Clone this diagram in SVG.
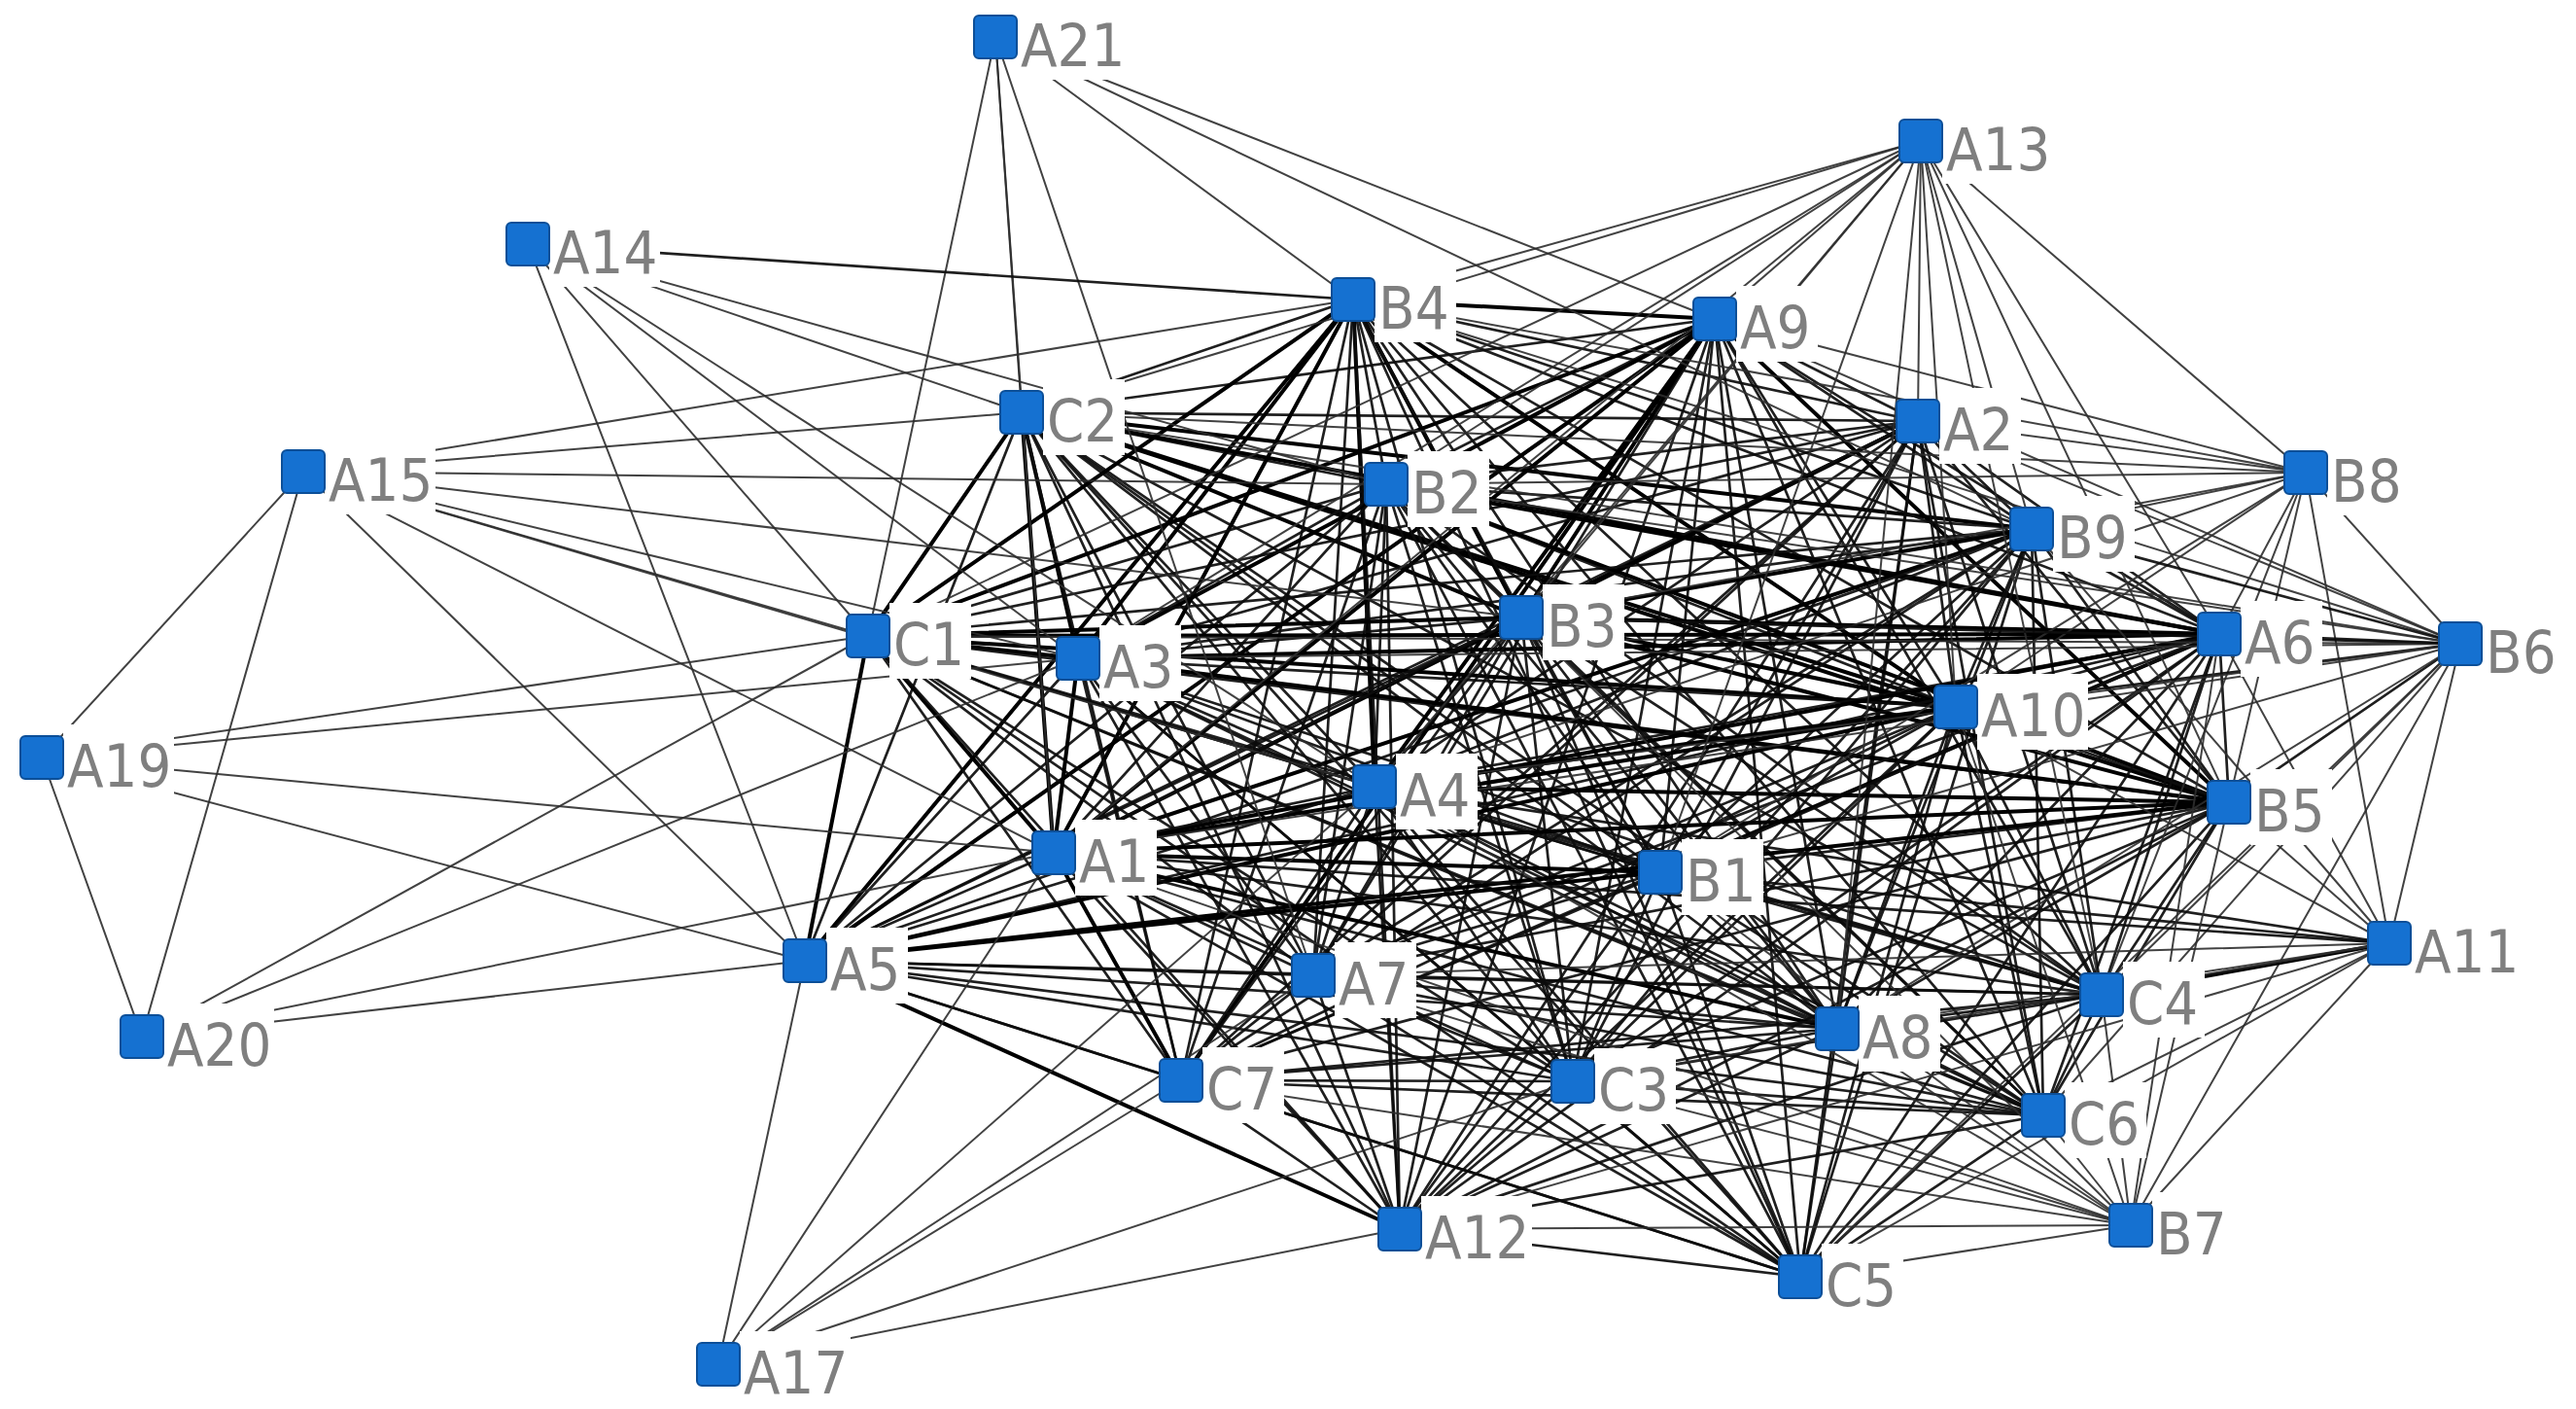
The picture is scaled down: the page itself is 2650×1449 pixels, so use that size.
<svg xmlns="http://www.w3.org/2000/svg" width="2650" height="1449" viewBox="0 0 2650 1449">
<style>
line{fill:none;stroke-linecap:round}
.t{stroke:#2e2e2e;stroke-width:2;stroke-opacity:.9}
.m{stroke:#0c0c0c;stroke-width:2.7;stroke-opacity:.92}
.k{stroke:#000;stroke-width:4}
.lbg{fill:#fff}
.box{fill:#1571d1;stroke:#0c4f98;stroke-width:2}
text{font-family:"DejaVu Sans","Liberation Sans",sans-serif;font-stretch:condensed;font-size:61px;fill:#7f7f7f}
</style>
<rect width="2650" height="1449" fill="#fff"/>
<g id="edges">
<!-- C2 -->
<line class="m" x1="1051" y1="424" x2="1392" y2="308"/>
<line class="m" x1="1051" y1="424" x2="1764" y2="328"/>
<line class="m" x1="1051" y1="424" x2="1973" y2="433"/>
<line class="m" x1="1051" y1="424" x2="1426" y2="498"/>
<line class="k" x1="1051" y1="424" x2="2090" y2="544"/>
<line class="k" x1="1051" y1="424" x2="893" y2="654"/>
<line class="k" x1="1051" y1="424" x2="1109" y2="677"/>
<line class="k" x1="1051" y1="424" x2="1565" y2="635"/>
<line class="k" x1="1051" y1="424" x2="2283" y2="652"/>
<line class="k" x1="1051" y1="424" x2="2012" y2="727"/>
<line class="m" x1="1051" y1="424" x2="1414" y2="809"/>
<line class="k" x1="1051" y1="424" x2="2293" y2="825"/>
<line class="k" x1="1051" y1="424" x2="1084" y2="877"/>
<line class="m" x1="1051" y1="424" x2="1708" y2="897"/>
<line class="m" x1="1051" y1="424" x2="828" y2="988"/>
<line class="m" x1="1051" y1="424" x2="1351" y2="1003"/>
<line class="m" x1="1051" y1="424" x2="2162" y2="1023"/>
<line class="m" x1="1051" y1="424" x2="1890" y2="1058"/>
<line class="m" x1="1051" y1="424" x2="1215" y2="1111"/>
<line class="m" x1="1051" y1="424" x2="1618" y2="1112"/>
<line class="m" x1="1051" y1="424" x2="2102" y2="1147"/>
<line class="m" x1="1051" y1="424" x2="1440" y2="1264"/>
<line class="m" x1="1051" y1="424" x2="1852" y2="1313"/>
<!-- B4 -->
<line class="k" x1="1392" y1="308" x2="1764" y2="328"/>
<line class="m" x1="1392" y1="308" x2="1973" y2="433"/>
<line class="m" x1="1392" y1="308" x2="1426" y2="498"/>
<line class="m" x1="1392" y1="308" x2="2090" y2="544"/>
<line class="k" x1="1392" y1="308" x2="893" y2="654"/>
<line class="k" x1="1392" y1="308" x2="1109" y2="677"/>
<line class="k" x1="1392" y1="308" x2="1565" y2="635"/>
<line class="m" x1="1392" y1="308" x2="2283" y2="652"/>
<line class="k" x1="1392" y1="308" x2="2012" y2="727"/>
<line class="k" x1="1392" y1="308" x2="1414" y2="809"/>
<line class="m" x1="1392" y1="308" x2="2293" y2="825"/>
<line class="k" x1="1392" y1="308" x2="1084" y2="877"/>
<line class="m" x1="1392" y1="308" x2="1708" y2="897"/>
<line class="k" x1="1392" y1="308" x2="828" y2="988"/>
<line class="m" x1="1392" y1="308" x2="1351" y2="1003"/>
<line class="m" x1="1392" y1="308" x2="2162" y2="1023"/>
<line class="m" x1="1392" y1="308" x2="1890" y2="1058"/>
<line class="m" x1="1392" y1="308" x2="1215" y2="1111"/>
<line class="m" x1="1392" y1="308" x2="1618" y2="1112"/>
<line class="m" x1="1392" y1="308" x2="2102" y2="1147"/>
<line class="m" x1="1392" y1="308" x2="1440" y2="1264"/>
<line class="m" x1="1392" y1="308" x2="1852" y2="1313"/>
<!-- A9 -->
<line class="m" x1="1764" y1="328" x2="1973" y2="433"/>
<line class="m" x1="1764" y1="328" x2="1426" y2="498"/>
<line class="m" x1="1764" y1="328" x2="2090" y2="544"/>
<line class="k" x1="1764" y1="328" x2="893" y2="654"/>
<line class="k" x1="1764" y1="328" x2="1109" y2="677"/>
<line class="k" x1="1764" y1="328" x2="1565" y2="635"/>
<line class="m" x1="1764" y1="328" x2="2283" y2="652"/>
<line class="m" x1="1764" y1="328" x2="2012" y2="727"/>
<line class="k" x1="1764" y1="328" x2="1414" y2="809"/>
<line class="k" x1="1764" y1="328" x2="2293" y2="825"/>
<line class="k" x1="1764" y1="328" x2="1084" y2="877"/>
<line class="m" x1="1764" y1="328" x2="1708" y2="897"/>
<line class="k" x1="1764" y1="328" x2="828" y2="988"/>
<line class="m" x1="1764" y1="328" x2="1351" y2="1003"/>
<line class="m" x1="1764" y1="328" x2="2162" y2="1023"/>
<line class="m" x1="1764" y1="328" x2="1890" y2="1058"/>
<line class="k" x1="1764" y1="328" x2="1215" y2="1111"/>
<line class="m" x1="1764" y1="328" x2="1618" y2="1112"/>
<line class="m" x1="1764" y1="328" x2="2102" y2="1147"/>
<line class="m" x1="1764" y1="328" x2="1440" y2="1264"/>
<line class="m" x1="1764" y1="328" x2="1852" y2="1313"/>
<!-- A2 -->
<line class="m" x1="1973" y1="433" x2="1426" y2="498"/>
<line class="m" x1="1973" y1="433" x2="2090" y2="544"/>
<line class="m" x1="1973" y1="433" x2="893" y2="654"/>
<line class="m" x1="1973" y1="433" x2="1109" y2="677"/>
<line class="k" x1="1973" y1="433" x2="1565" y2="635"/>
<line class="m" x1="1973" y1="433" x2="2283" y2="652"/>
<line class="m" x1="1973" y1="433" x2="2012" y2="727"/>
<line class="m" x1="1973" y1="433" x2="1414" y2="809"/>
<line class="m" x1="1973" y1="433" x2="2293" y2="825"/>
<line class="k" x1="1973" y1="433" x2="1084" y2="877"/>
<line class="m" x1="1973" y1="433" x2="1708" y2="897"/>
<line class="m" x1="1973" y1="433" x2="828" y2="988"/>
<line class="m" x1="1973" y1="433" x2="1351" y2="1003"/>
<line class="m" x1="1973" y1="433" x2="2162" y2="1023"/>
<line class="m" x1="1973" y1="433" x2="1890" y2="1058"/>
<line class="m" x1="1973" y1="433" x2="1215" y2="1111"/>
<line class="m" x1="1973" y1="433" x2="1618" y2="1112"/>
<line class="m" x1="1973" y1="433" x2="2102" y2="1147"/>
<line class="m" x1="1973" y1="433" x2="1440" y2="1264"/>
<line class="m" x1="1973" y1="433" x2="1852" y2="1313"/>
<!-- B2 -->
<line class="m" x1="1426" y1="498" x2="2090" y2="544"/>
<line class="m" x1="1426" y1="498" x2="893" y2="654"/>
<line class="m" x1="1426" y1="498" x2="1109" y2="677"/>
<line class="m" x1="1426" y1="498" x2="1565" y2="635"/>
<line class="k" x1="1426" y1="498" x2="2283" y2="652"/>
<line class="m" x1="1426" y1="498" x2="2012" y2="727"/>
<line class="m" x1="1426" y1="498" x2="1414" y2="809"/>
<line class="k" x1="1426" y1="498" x2="2293" y2="825"/>
<line class="m" x1="1426" y1="498" x2="1084" y2="877"/>
<line class="m" x1="1426" y1="498" x2="1708" y2="897"/>
<line class="m" x1="1426" y1="498" x2="828" y2="988"/>
<line class="m" x1="1426" y1="498" x2="1351" y2="1003"/>
<line class="m" x1="1426" y1="498" x2="2162" y2="1023"/>
<line class="m" x1="1426" y1="498" x2="1890" y2="1058"/>
<line class="m" x1="1426" y1="498" x2="1215" y2="1111"/>
<line class="m" x1="1426" y1="498" x2="1618" y2="1112"/>
<line class="m" x1="1426" y1="498" x2="2102" y2="1147"/>
<line class="m" x1="1426" y1="498" x2="1440" y2="1264"/>
<line class="m" x1="1426" y1="498" x2="1852" y2="1313"/>
<!-- B9 -->
<line class="m" x1="2090" y1="544" x2="893" y2="654"/>
<line class="m" x1="2090" y1="544" x2="1109" y2="677"/>
<line class="k" x1="2090" y1="544" x2="1565" y2="635"/>
<line class="m" x1="2090" y1="544" x2="2283" y2="652"/>
<line class="m" x1="2090" y1="544" x2="2012" y2="727"/>
<line class="m" x1="2090" y1="544" x2="1414" y2="809"/>
<line class="m" x1="2090" y1="544" x2="2293" y2="825"/>
<line class="k" x1="2090" y1="544" x2="1084" y2="877"/>
<line class="m" x1="2090" y1="544" x2="1708" y2="897"/>
<line class="m" x1="2090" y1="544" x2="828" y2="988"/>
<line class="m" x1="2090" y1="544" x2="1351" y2="1003"/>
<line class="m" x1="2090" y1="544" x2="2162" y2="1023"/>
<line class="m" x1="2090" y1="544" x2="1890" y2="1058"/>
<line class="m" x1="2090" y1="544" x2="1215" y2="1111"/>
<line class="m" x1="2090" y1="544" x2="1618" y2="1112"/>
<line class="m" x1="2090" y1="544" x2="2102" y2="1147"/>
<line class="m" x1="2090" y1="544" x2="1440" y2="1264"/>
<line class="m" x1="2090" y1="544" x2="1852" y2="1313"/>
<!-- C1 -->
<line class="k" x1="893" y1="654" x2="1109" y2="677"/>
<line class="k" x1="893" y1="654" x2="1565" y2="635"/>
<line class="k" x1="893" y1="654" x2="2283" y2="652"/>
<line class="k" x1="893" y1="654" x2="2012" y2="727"/>
<line class="m" x1="893" y1="654" x2="1414" y2="809"/>
<line class="m" x1="893" y1="654" x2="2293" y2="825"/>
<line class="k" x1="893" y1="654" x2="1084" y2="877"/>
<line class="m" x1="893" y1="654" x2="1708" y2="897"/>
<line class="k" x1="893" y1="654" x2="828" y2="988"/>
<line class="m" x1="893" y1="654" x2="1351" y2="1003"/>
<line class="m" x1="893" y1="654" x2="2162" y2="1023"/>
<line class="m" x1="893" y1="654" x2="1890" y2="1058"/>
<line class="m" x1="893" y1="654" x2="1215" y2="1111"/>
<line class="m" x1="893" y1="654" x2="1618" y2="1112"/>
<line class="m" x1="893" y1="654" x2="2102" y2="1147"/>
<line class="m" x1="893" y1="654" x2="1440" y2="1264"/>
<line class="m" x1="893" y1="654" x2="1852" y2="1313"/>
<!-- A3 -->
<line class="m" x1="1109" y1="677" x2="1565" y2="635"/>
<line class="k" x1="1109" y1="677" x2="2283" y2="652"/>
<line class="m" x1="1109" y1="677" x2="2012" y2="727"/>
<line class="m" x1="1109" y1="677" x2="1414" y2="809"/>
<line class="k" x1="1109" y1="677" x2="2293" y2="825"/>
<line class="k" x1="1109" y1="677" x2="1084" y2="877"/>
<line class="m" x1="1109" y1="677" x2="1708" y2="897"/>
<line class="m" x1="1109" y1="677" x2="828" y2="988"/>
<line class="m" x1="1109" y1="677" x2="1351" y2="1003"/>
<line class="m" x1="1109" y1="677" x2="2162" y2="1023"/>
<line class="m" x1="1109" y1="677" x2="1890" y2="1058"/>
<line class="m" x1="1109" y1="677" x2="1215" y2="1111"/>
<line class="m" x1="1109" y1="677" x2="1618" y2="1112"/>
<line class="m" x1="1109" y1="677" x2="2102" y2="1147"/>
<line class="m" x1="1109" y1="677" x2="1440" y2="1264"/>
<line class="m" x1="1109" y1="677" x2="1852" y2="1313"/>
<!-- B3 -->
<line class="k" x1="1565" y1="635" x2="2283" y2="652"/>
<line class="k" x1="1565" y1="635" x2="2012" y2="727"/>
<line class="m" x1="1565" y1="635" x2="1414" y2="809"/>
<line class="k" x1="1565" y1="635" x2="2293" y2="825"/>
<line class="m" x1="1565" y1="635" x2="1084" y2="877"/>
<line class="m" x1="1565" y1="635" x2="1708" y2="897"/>
<line class="m" x1="1565" y1="635" x2="828" y2="988"/>
<line class="m" x1="1565" y1="635" x2="1351" y2="1003"/>
<line class="m" x1="1565" y1="635" x2="2162" y2="1023"/>
<line class="m" x1="1565" y1="635" x2="1890" y2="1058"/>
<line class="m" x1="1565" y1="635" x2="1215" y2="1111"/>
<line class="m" x1="1565" y1="635" x2="1618" y2="1112"/>
<line class="m" x1="1565" y1="635" x2="2102" y2="1147"/>
<line class="m" x1="1565" y1="635" x2="1440" y2="1264"/>
<line class="m" x1="1565" y1="635" x2="1852" y2="1313"/>
<!-- A6 -->
<line class="m" x1="2283" y1="652" x2="2012" y2="727"/>
<line class="m" x1="2283" y1="652" x2="1414" y2="809"/>
<line class="m" x1="2283" y1="652" x2="2293" y2="825"/>
<line class="k" x1="2283" y1="652" x2="1084" y2="877"/>
<line class="k" x1="2283" y1="652" x2="1708" y2="897"/>
<line class="m" x1="2283" y1="652" x2="828" y2="988"/>
<line class="m" x1="2283" y1="652" x2="1351" y2="1003"/>
<line class="m" x1="2283" y1="652" x2="2162" y2="1023"/>
<line class="m" x1="2283" y1="652" x2="1890" y2="1058"/>
<line class="m" x1="2283" y1="652" x2="1215" y2="1111"/>
<line class="m" x1="2283" y1="652" x2="1618" y2="1112"/>
<line class="m" x1="2283" y1="652" x2="2102" y2="1147"/>
<line class="m" x1="2283" y1="652" x2="1440" y2="1264"/>
<line class="m" x1="2283" y1="652" x2="1852" y2="1313"/>
<!-- A10 -->
<line class="k" x1="2012" y1="727" x2="1414" y2="809"/>
<line class="m" x1="2012" y1="727" x2="2293" y2="825"/>
<line class="k" x1="2012" y1="727" x2="1084" y2="877"/>
<line class="m" x1="2012" y1="727" x2="1708" y2="897"/>
<line class="k" x1="2012" y1="727" x2="828" y2="988"/>
<line class="m" x1="2012" y1="727" x2="1351" y2="1003"/>
<line class="m" x1="2012" y1="727" x2="2162" y2="1023"/>
<line class="m" x1="2012" y1="727" x2="1890" y2="1058"/>
<line class="m" x1="2012" y1="727" x2="1215" y2="1111"/>
<line class="m" x1="2012" y1="727" x2="1618" y2="1112"/>
<line class="m" x1="2012" y1="727" x2="2102" y2="1147"/>
<line class="m" x1="2012" y1="727" x2="1440" y2="1264"/>
<line class="m" x1="2012" y1="727" x2="1852" y2="1313"/>
<!-- A4 -->
<line class="k" x1="1414" y1="809" x2="2293" y2="825"/>
<line class="m" x1="1414" y1="809" x2="1084" y2="877"/>
<line class="m" x1="1414" y1="809" x2="1708" y2="897"/>
<line class="m" x1="1414" y1="809" x2="828" y2="988"/>
<line class="m" x1="1414" y1="809" x2="1351" y2="1003"/>
<line class="m" x1="1414" y1="809" x2="2162" y2="1023"/>
<line class="m" x1="1414" y1="809" x2="1890" y2="1058"/>
<line class="m" x1="1414" y1="809" x2="1215" y2="1111"/>
<line class="m" x1="1414" y1="809" x2="1618" y2="1112"/>
<line class="m" x1="1414" y1="809" x2="2102" y2="1147"/>
<line class="m" x1="1414" y1="809" x2="1440" y2="1264"/>
<line class="m" x1="1414" y1="809" x2="1852" y2="1313"/>
<!-- B5 -->
<line class="k" x1="2293" y1="825" x2="1084" y2="877"/>
<line class="m" x1="2293" y1="825" x2="1708" y2="897"/>
<line class="k" x1="2293" y1="825" x2="828" y2="988"/>
<line class="m" x1="2293" y1="825" x2="1351" y2="1003"/>
<line class="m" x1="2293" y1="825" x2="2162" y2="1023"/>
<line class="m" x1="2293" y1="825" x2="1890" y2="1058"/>
<line class="m" x1="2293" y1="825" x2="1215" y2="1111"/>
<line class="m" x1="2293" y1="825" x2="1618" y2="1112"/>
<line class="m" x1="2293" y1="825" x2="2102" y2="1147"/>
<line class="m" x1="2293" y1="825" x2="1440" y2="1264"/>
<line class="m" x1="2293" y1="825" x2="1852" y2="1313"/>
<!-- A1 -->
<line class="k" x1="1084" y1="877" x2="1708" y2="897"/>
<line class="m" x1="1084" y1="877" x2="828" y2="988"/>
<line class="m" x1="1084" y1="877" x2="1351" y2="1003"/>
<line class="m" x1="1084" y1="877" x2="2162" y2="1023"/>
<line class="k" x1="1084" y1="877" x2="1890" y2="1058"/>
<line class="k" x1="1084" y1="877" x2="1215" y2="1111"/>
<line class="m" x1="1084" y1="877" x2="1618" y2="1112"/>
<line class="m" x1="1084" y1="877" x2="2102" y2="1147"/>
<line class="m" x1="1084" y1="877" x2="1440" y2="1264"/>
<line class="m" x1="1084" y1="877" x2="1852" y2="1313"/>
<!-- B1 -->
<line class="k" x1="1708" y1="897" x2="828" y2="988"/>
<line class="m" x1="1708" y1="897" x2="1351" y2="1003"/>
<line class="m" x1="1708" y1="897" x2="2162" y2="1023"/>
<line class="m" x1="1708" y1="897" x2="1890" y2="1058"/>
<line class="m" x1="1708" y1="897" x2="1215" y2="1111"/>
<line class="m" x1="1708" y1="897" x2="1618" y2="1112"/>
<line class="m" x1="1708" y1="897" x2="2102" y2="1147"/>
<line class="m" x1="1708" y1="897" x2="1440" y2="1264"/>
<line class="m" x1="1708" y1="897" x2="1852" y2="1313"/>
<!-- A5 -->
<line class="m" x1="828" y1="988" x2="1351" y2="1003"/>
<line class="m" x1="828" y1="988" x2="2162" y2="1023"/>
<line class="m" x1="828" y1="988" x2="1890" y2="1058"/>
<line class="m" x1="828" y1="988" x2="1215" y2="1111"/>
<line class="m" x1="828" y1="988" x2="1618" y2="1112"/>
<line class="m" x1="828" y1="988" x2="2102" y2="1147"/>
<line class="k" x1="828" y1="988" x2="1440" y2="1264"/>
<line class="m" x1="828" y1="988" x2="1852" y2="1313"/>
<!-- A7 -->
<line class="m" x1="1351" y1="1003" x2="2162" y2="1023"/>
<line class="m" x1="1351" y1="1003" x2="1890" y2="1058"/>
<line class="m" x1="1351" y1="1003" x2="1215" y2="1111"/>
<line class="m" x1="1351" y1="1003" x2="1618" y2="1112"/>
<line class="m" x1="1351" y1="1003" x2="2102" y2="1147"/>
<line class="m" x1="1351" y1="1003" x2="1440" y2="1264"/>
<line class="m" x1="1351" y1="1003" x2="1852" y2="1313"/>
<!-- C4 -->
<line class="m" x1="2162" y1="1023" x2="1890" y2="1058"/>
<line class="m" x1="2162" y1="1023" x2="1215" y2="1111"/>
<line class="m" x1="2162" y1="1023" x2="1618" y2="1112"/>
<line class="m" x1="2162" y1="1023" x2="2102" y2="1147"/>
<line class="m" x1="2162" y1="1023" x2="1440" y2="1264"/>
<line class="m" x1="2162" y1="1023" x2="1852" y2="1313"/>
<!-- A8 -->
<line class="m" x1="1890" y1="1058" x2="1215" y2="1111"/>
<line class="m" x1="1890" y1="1058" x2="1618" y2="1112"/>
<line class="m" x1="1890" y1="1058" x2="2102" y2="1147"/>
<line class="m" x1="1890" y1="1058" x2="1440" y2="1264"/>
<line class="m" x1="1890" y1="1058" x2="1852" y2="1313"/>
<!-- C7 -->
<line class="m" x1="1215" y1="1111" x2="1618" y2="1112"/>
<line class="m" x1="1215" y1="1111" x2="2102" y2="1147"/>
<line class="m" x1="1215" y1="1111" x2="1440" y2="1264"/>
<line class="m" x1="1215" y1="1111" x2="1852" y2="1313"/>
<!-- C3, C6, A12 -->
<line class="m" x1="1618" y1="1112" x2="2102" y2="1147"/>
<line class="m" x1="1618" y1="1112" x2="1440" y2="1264"/>
<line class="m" x1="1618" y1="1112" x2="1852" y2="1313"/>
<line class="m" x1="2102" y1="1147" x2="1440" y2="1264"/>
<line class="m" x1="2102" y1="1147" x2="1852" y2="1313"/>
<line class="m" x1="1440" y1="1264" x2="1852" y2="1313"/>
<!-- A13 -->
<line class="t" x1="1976" y1="145" x2="1392" y2="308"/>
<line class="t" x1="1976" y1="145" x2="1051" y2="424"/>
<line class="t" x1="1976" y1="145" x2="893" y2="654"/>
<line class="t" x1="1976" y1="145" x2="1109" y2="677"/>
<line class="t" x1="1976" y1="145" x2="1426" y2="498"/>
<line class="t" x1="1976" y1="145" x2="1764" y2="328"/>
<line class="t" x1="1976" y1="145" x2="1084" y2="877"/>
<line class="t" x1="1976" y1="145" x2="1414" y2="809"/>
<line class="t" x1="1976" y1="145" x2="1565" y2="635"/>
<line class="t" x1="1976" y1="145" x2="1708" y2="897"/>
<line class="t" x1="1976" y1="145" x2="1973" y2="433"/>
<line class="t" x1="1976" y1="145" x2="2012" y2="727"/>
<line class="t" x1="1976" y1="145" x2="1890" y2="1058"/>
<line class="t" x1="1976" y1="145" x2="2090" y2="544"/>
<line class="t" x1="1976" y1="145" x2="2283" y2="652"/>
<line class="t" x1="1976" y1="145" x2="2293" y2="825"/>
<line class="t" x1="1976" y1="145" x2="2162" y2="1023"/>
<line class="t" x1="1976" y1="145" x2="2372" y2="486"/>
<!-- B8 -->
<line class="t" x1="2372" y1="486" x2="1392" y2="308"/>
<line class="t" x1="2372" y1="486" x2="1764" y2="328"/>
<line class="t" x1="2372" y1="486" x2="1973" y2="433"/>
<line class="t" x1="2372" y1="486" x2="1051" y2="424"/>
<line class="t" x1="2372" y1="486" x2="1426" y2="498"/>
<line class="t" x1="2372" y1="486" x2="2090" y2="544"/>
<line class="t" x1="2372" y1="486" x2="1565" y2="635"/>
<line class="t" x1="2372" y1="486" x2="2283" y2="652"/>
<line class="t" x1="2372" y1="486" x2="2012" y2="727"/>
<line class="t" x1="2372" y1="486" x2="2293" y2="825"/>
<line class="t" x1="2372" y1="486" x2="2162" y2="1023"/>
<line class="t" x1="2372" y1="486" x2="1708" y2="897"/>
<line class="t" x1="2372" y1="486" x2="1414" y2="809"/>
<line class="t" x1="2372" y1="486" x2="2531" y2="662"/>
<line class="t" x1="2372" y1="486" x2="2458" y2="970"/>
<!-- B6 -->
<line class="t" x1="2531" y1="662" x2="1392" y2="308"/>
<line class="m" x1="2531" y1="662" x2="2090" y2="544"/>
<line class="t" x1="2531" y1="662" x2="1973" y2="433"/>
<line class="t" x1="2531" y1="662" x2="1764" y2="328"/>
<line class="t" x1="2531" y1="662" x2="1051" y2="424"/>
<line class="t" x1="2531" y1="662" x2="1426" y2="498"/>
<line class="m" x1="2531" y1="662" x2="1565" y2="635"/>
<line class="t" x1="2531" y1="662" x2="1109" y2="677"/>
<line class="t" x1="2531" y1="662" x2="893" y2="654"/>
<line class="m" x1="2531" y1="662" x2="2283" y2="652"/>
<line class="m" x1="2531" y1="662" x2="2012" y2="727"/>
<line class="t" x1="2531" y1="662" x2="1414" y2="809"/>
<line class="t" x1="2531" y1="662" x2="1084" y2="877"/>
<line class="t" x1="2531" y1="662" x2="1708" y2="897"/>
<line class="m" x1="2531" y1="662" x2="2293" y2="825"/>
<line class="t" x1="2531" y1="662" x2="2162" y2="1023"/>
<line class="t" x1="2531" y1="662" x2="1890" y2="1058"/>
<line class="t" x1="2531" y1="662" x2="2102" y2="1147"/>
<line class="t" x1="2531" y1="662" x2="2458" y2="970"/>
<line class="t" x1="2531" y1="662" x2="2192" y2="1260"/>
<line class="t" x1="2531" y1="662" x2="1852" y2="1313"/>
<!-- A11 -->
<line class="t" x1="2458" y1="970" x2="2283" y2="652"/>
<line class="t" x1="2458" y1="970" x2="2090" y2="544"/>
<line class="t" x1="2458" y1="970" x2="2012" y2="727"/>
<line class="t" x1="2458" y1="970" x2="2293" y2="825"/>
<line class="m" x1="2458" y1="970" x2="1414" y2="809"/>
<line class="m" x1="2458" y1="970" x2="1084" y2="877"/>
<line class="m" x1="2458" y1="970" x2="1708" y2="897"/>
<line class="k" x1="2458" y1="970" x2="2162" y2="1023"/>
<line class="t" x1="2458" y1="970" x2="1890" y2="1058"/>
<line class="t" x1="2458" y1="970" x2="1618" y2="1112"/>
<line class="t" x1="2458" y1="970" x2="2102" y2="1147"/>
<line class="t" x1="2458" y1="970" x2="1852" y2="1313"/>
<line class="t" x1="2458" y1="970" x2="1440" y2="1264"/>
<line class="t" x1="2458" y1="970" x2="2192" y2="1260"/>
<line class="t" x1="2458" y1="970" x2="1351" y2="1003"/>
<!-- B7 -->
<line class="t" x1="2192" y1="1260" x2="1440" y2="1264"/>
<line class="t" x1="2192" y1="1260" x2="1852" y2="1313"/>
<line class="t" x1="2192" y1="1260" x2="1618" y2="1112"/>
<line class="t" x1="2192" y1="1260" x2="1351" y2="1003"/>
<line class="t" x1="2192" y1="1260" x2="1890" y2="1058"/>
<line class="t" x1="2192" y1="1260" x2="1708" y2="897"/>
<line class="t" x1="2192" y1="1260" x2="2162" y2="1023"/>
<line class="t" x1="2192" y1="1260" x2="2102" y2="1147"/>
<line class="t" x1="2192" y1="1260" x2="2293" y2="825"/>
<line class="t" x1="2192" y1="1260" x2="2283" y2="652"/>
<line class="t" x1="2192" y1="1260" x2="2012" y2="727"/>
<line class="t" x1="2192" y1="1260" x2="1215" y2="1111"/>
<line class="t" x1="2192" y1="1260" x2="1414" y2="809"/>
<line class="t" x1="2192" y1="1260" x2="1084" y2="877"/>
<line class="t" x1="2192" y1="1260" x2="1565" y2="635"/>
<!-- A21 -->
<line class="t" x1="1024" y1="38" x2="893" y2="654"/>
<line class="t" x1="1024" y1="38" x2="1051" y2="424"/>
<line class="t" x1="1024" y1="38" x2="1084" y2="877"/>
<line class="t" x1="1024" y1="38" x2="1351" y2="1003"/>
<line class="t" x1="1024" y1="38" x2="1392" y2="308"/>
<line class="t" x1="1024" y1="38" x2="1764" y2="328"/>
<line class="t" x1="1024" y1="38" x2="2090" y2="544"/>
<!-- A14 -->
<line class="m" x1="543" y1="251" x2="1392" y2="308"/>
<line class="t" x1="543" y1="251" x2="1426" y2="498"/>
<line class="t" x1="543" y1="251" x2="1051" y2="424"/>
<line class="t" x1="543" y1="251" x2="893" y2="654"/>
<line class="t" x1="543" y1="251" x2="1109" y2="677"/>
<line class="t" x1="543" y1="251" x2="1414" y2="809"/>
<line class="t" x1="543" y1="251" x2="828" y2="988"/>
<!-- A15 -->
<line class="t" x1="312" y1="485" x2="43" y2="779"/>
<line class="t" x1="312" y1="485" x2="146" y2="1066"/>
<line class="t" x1="312" y1="485" x2="1392" y2="308"/>
<line class="t" x1="312" y1="485" x2="1051" y2="424"/>
<line class="t" x1="312" y1="485" x2="1426" y2="498"/>
<line class="t" x1="312" y1="485" x2="1565" y2="635"/>
<line class="t" x1="312" y1="485" x2="1109" y2="677"/>
<line class="t" x1="312" y1="485" x2="893" y2="654"/>
<line class="t" x1="312" y1="485" x2="1414" y2="809"/>
<line class="t" x1="312" y1="485" x2="1084" y2="877"/>
<line class="t" x1="312" y1="485" x2="828" y2="988"/>
<!-- A19 -->
<line class="t" x1="43" y1="779" x2="146" y2="1066"/>
<line class="t" x1="43" y1="779" x2="893" y2="654"/>
<line class="t" x1="43" y1="779" x2="1109" y2="677"/>
<line class="t" x1="43" y1="779" x2="1084" y2="877"/>
<line class="t" x1="43" y1="779" x2="828" y2="988"/>
<!-- A20 -->
<line class="t" x1="146" y1="1066" x2="893" y2="654"/>
<line class="t" x1="146" y1="1066" x2="1109" y2="677"/>
<line class="t" x1="146" y1="1066" x2="1084" y2="877"/>
<line class="t" x1="146" y1="1066" x2="828" y2="988"/>
<!-- A17 -->
<line class="t" x1="739" y1="1403" x2="828" y2="988"/>
<line class="t" x1="739" y1="1403" x2="1084" y2="877"/>
<line class="t" x1="739" y1="1403" x2="1215" y2="1111"/>
<line class="t" x1="739" y1="1403" x2="1351" y2="1003"/>
<line class="t" x1="739" y1="1403" x2="1414" y2="809"/>
<line class="t" x1="739" y1="1403" x2="1618" y2="1112"/>
<line class="t" x1="739" y1="1403" x2="1440" y2="1264"/>
</g>
<g id="nodes">
<g id="A1"><rect class="lbg" x="1106" y="843" width="84" height="78"/><rect class="box" x="1062" y="855" width="44" height="44" rx="5"/><text x="1110" y="907">A1</text></g>
<g id="A2"><rect class="lbg" x="1995" y="399" width="84" height="78"/><rect class="box" x="1951" y="411" width="44" height="44" rx="5"/><text x="1999" y="463">A2</text></g>
<g id="A3"><rect class="lbg" x="1131" y="643" width="84" height="78"/><rect class="box" x="1087" y="655" width="44" height="44" rx="5"/><text x="1135" y="707">A3</text></g>
<g id="A4"><rect class="lbg" x="1436" y="775" width="84" height="78"/><rect class="box" x="1392" y="787" width="44" height="44" rx="5"/><text x="1440" y="839">A4</text></g>
<g id="A5"><rect class="lbg" x="850" y="954" width="84" height="78"/><rect class="box" x="806" y="966" width="44" height="44" rx="5"/><text x="854" y="1018">A5</text></g>
<g id="A6"><rect class="lbg" x="2305" y="618" width="84" height="78"/><rect class="box" x="2261" y="630" width="44" height="44" rx="5"/><text x="2309" y="682">A6</text></g>
<g id="A7"><rect class="lbg" x="1373" y="969" width="84" height="78"/><rect class="box" x="1329" y="981" width="44" height="44" rx="5"/><text x="1377" y="1033">A7</text></g>
<g id="A8"><rect class="lbg" x="1912" y="1024" width="84" height="78"/><rect class="box" x="1868" y="1036" width="44" height="44" rx="5"/><text x="1916" y="1088">A8</text></g>
<g id="A9"><rect class="lbg" x="1786" y="294" width="84" height="78"/><rect class="box" x="1742" y="306" width="44" height="44" rx="5"/><text x="1790" y="358">A9</text></g>
<g id="A10"><rect class="lbg" x="2034" y="693" width="114" height="78"/><rect class="box" x="1990" y="705" width="44" height="44" rx="5"/><text x="2038" y="757">A10</text></g>
<g id="A11"><rect class="lbg" x="2480" y="936" width="114" height="78"/><rect class="box" x="2436" y="948" width="44" height="44" rx="5"/><text x="2484" y="1000">A11</text></g>
<g id="A12"><rect class="lbg" x="1462" y="1230" width="114" height="78"/><rect class="box" x="1418" y="1242" width="44" height="44" rx="5"/><text x="1466" y="1294">A12</text></g>
<g id="A13"><rect class="lbg" x="1998" y="111" width="114" height="78"/><rect class="box" x="1954" y="123" width="44" height="44" rx="5"/><text x="2002" y="175">A13</text></g>
<g id="A14"><rect class="lbg" x="565" y="217" width="114" height="78"/><rect class="box" x="521" y="229" width="44" height="44" rx="5"/><text x="569" y="281">A14</text></g>
<g id="A15"><rect class="lbg" x="334" y="451" width="114" height="78"/><rect class="box" x="290" y="463" width="44" height="44" rx="5"/><text x="338" y="515">A15</text></g>
<g id="A17"><rect class="lbg" x="761" y="1369" width="114" height="78"/><rect class="box" x="717" y="1381" width="44" height="44" rx="5"/><text x="765" y="1433">A17</text></g>
<g id="A19"><rect class="lbg" x="65" y="745" width="114" height="78"/><rect class="box" x="21" y="757" width="44" height="44" rx="5"/><text x="69" y="809">A19</text></g>
<g id="A20"><rect class="lbg" x="168" y="1032" width="114" height="78"/><rect class="box" x="124" y="1044" width="44" height="44" rx="5"/><text x="172" y="1096">A20</text></g>
<g id="A21"><rect class="lbg" x="1046" y="4" width="114" height="78"/><rect class="box" x="1002" y="16" width="44" height="44" rx="5"/><text x="1050" y="68">A21</text></g>
<g id="B1"><rect class="lbg" x="1730" y="863" width="84" height="78"/><rect class="box" x="1686" y="875" width="44" height="44" rx="5"/><text x="1734" y="927">B1</text></g>
<g id="B2"><rect class="lbg" x="1448" y="464" width="84" height="78"/><rect class="box" x="1404" y="476" width="44" height="44" rx="5"/><text x="1452" y="528">B2</text></g>
<g id="B3"><rect class="lbg" x="1587" y="601" width="84" height="78"/><rect class="box" x="1543" y="613" width="44" height="44" rx="5"/><text x="1591" y="665">B3</text></g>
<g id="B4"><rect class="lbg" x="1414" y="274" width="84" height="78"/><rect class="box" x="1370" y="286" width="44" height="44" rx="5"/><text x="1418" y="338">B4</text></g>
<g id="B5"><rect class="lbg" x="2315" y="791" width="84" height="78"/><rect class="box" x="2271" y="803" width="44" height="44" rx="5"/><text x="2319" y="855">B5</text></g>
<g id="B6"><rect class="lbg" x="2553" y="628" width="84" height="78"/><rect class="box" x="2509" y="640" width="44" height="44" rx="5"/><text x="2557" y="692">B6</text></g>
<g id="B7"><rect class="lbg" x="2214" y="1226" width="84" height="78"/><rect class="box" x="2170" y="1238" width="44" height="44" rx="5"/><text x="2218" y="1290">B7</text></g>
<g id="B8"><rect class="lbg" x="2394" y="452" width="84" height="78"/><rect class="box" x="2350" y="464" width="44" height="44" rx="5"/><text x="2398" y="516">B8</text></g>
<g id="B9"><rect class="lbg" x="2112" y="510" width="84" height="78"/><rect class="box" x="2068" y="522" width="44" height="44" rx="5"/><text x="2116" y="574">B9</text></g>
<g id="C1"><rect class="lbg" x="915" y="620" width="84" height="78"/><rect class="box" x="871" y="632" width="44" height="44" rx="5"/><text x="919" y="684">C1</text></g>
<g id="C2"><rect class="lbg" x="1073" y="390" width="84" height="78"/><rect class="box" x="1029" y="402" width="44" height="44" rx="5"/><text x="1077" y="454">C2</text></g>
<g id="C3"><rect class="lbg" x="1640" y="1078" width="84" height="78"/><rect class="box" x="1596" y="1090" width="44" height="44" rx="5"/><text x="1644" y="1142">C3</text></g>
<g id="C4"><rect class="lbg" x="2184" y="989" width="84" height="78"/><rect class="box" x="2140" y="1001" width="44" height="44" rx="5"/><text x="2188" y="1053">C4</text></g>
<g id="C5"><rect class="lbg" x="1874" y="1279" width="84" height="78"/><rect class="box" x="1830" y="1291" width="44" height="44" rx="5"/><text x="1878" y="1343">C5</text></g>
<g id="C6"><rect class="lbg" x="2124" y="1113" width="84" height="78"/><rect class="box" x="2080" y="1125" width="44" height="44" rx="5"/><text x="2128" y="1177">C6</text></g>
<g id="C7"><rect class="lbg" x="1237" y="1077" width="84" height="78"/><rect class="box" x="1193" y="1089" width="44" height="44" rx="5"/><text x="1241" y="1141">C7</text></g>
</g>
</svg>
